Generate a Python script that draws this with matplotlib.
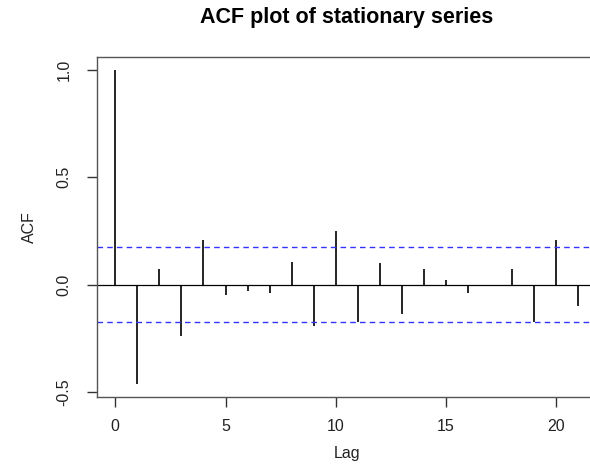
import matplotlib
matplotlib.use("Agg")
import matplotlib.pyplot as plt
import numpy as np

plt.rcParams['font.family'] = ['Liberation Sans', 'DejaVu Sans']

lags = list(range(22))
acf_values = [1.0, -0.463, 0.071, -0.239, 0.210, -0.050, -0.028, -0.037, 0.107, -0.192,
              0.248, -0.172, 0.099, -0.138, 0.071, 0.021, -0.037, -0.005, 0.071, -0.172,
              0.206, -0.099]
conf_bound = 0.175
x_ticks = [0, 5, 10, 15, 20]
y_ticks = [-0.5, 0.0, 0.5, 1.0]
y_tick_labels = ["-0.5", "0.0", "0.5", "1.0"]

W, H = 590, 465
fig = plt.figure(figsize=(W / 100, H / 100), dpi=100)
left, right, bottom, top = 96.7, 597.0, 396.7, 57.3
ax = fig.add_axes([left / W, 1 - bottom / H, (right - left) / W, (bottom - top) / H])

ax.vlines(lags, 0, acf_values, colors='black', linewidth=1.2)
ax.axhline(0, color='black', linewidth=0.9)
ax.axhline(conf_bound, color='#3333ff', linewidth=1.0, linestyle=(0, (4, 3)))
ax.axhline(-conf_bound, color='#3333ff', linewidth=1.0, linestyle=(0, (4, 3)))

ax.set_xlim(-0.84, 21.84)
ax.set_ylim(-0.5215, 1.0585)
ax.set_xticks(x_ticks)
ax.set_xticklabels([str(t) for t in x_ticks])
ax.set_yticks(y_ticks)
ax.set_yticklabels(y_tick_labels, rotation=90, va='center')

for s in ax.spines.values():
    s.set_color('#555555')
    s.set_linewidth(1.0)
ax.tick_params(axis='both', direction='out', length=7, width=1.0, color='#333333',
               labelsize=11.5, labelcolor='#222222')
ax.tick_params(axis='x', pad=9)
ax.tick_params(axis='y', pad=11)

ax.set_xlabel('Lag', fontsize=11.5, color='#222222', labelpad=9)
ax.set_ylabel('ACF', fontsize=11.5, color='#222222', labelpad=14)
fig.text((left + right) / 2 / W, 1 - 17 / H, 'ACF plot of stationary series',
         ha='center', va='center', fontsize=15.5, fontweight='bold')

fig.savefig('out.png', dpi=100)
